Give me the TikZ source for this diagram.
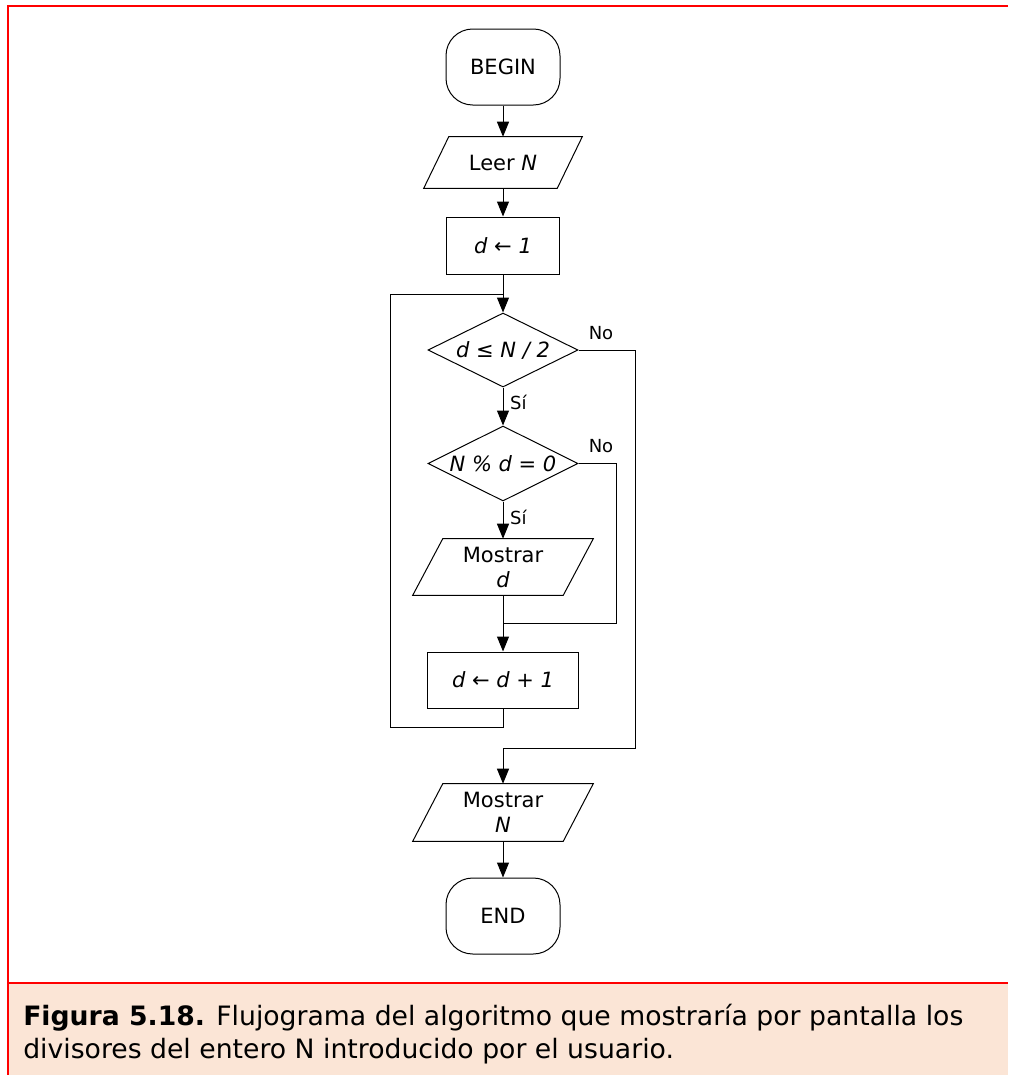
\documentclass[tikz,border=0pt]{standalone}
\usepackage{fontspec}
\setmainfont{DejaVu Sans}
\usetikzlibrary{arrows.meta,shapes.geometric}
\definecolor{framered}{HTML}{FF0000}
\definecolor{capbg}{HTML}{FBE5D6}

% parallelogram drawn around a plain rectangular node (#1 = node, #2 = half slant)
\newcommand\ioframe[2]{%
  \draw[shapeline] ([xshift=#2]#1.north west) -- ([xshift=#2]#1.north east)
    -- ([xshift=-#2]#1.south east) -- ([xshift=-#2]#1.south west) -- cycle;}

\begin{document}
\begin{tikzpicture}[x=0.75pt,y=-0.75pt,
  shapeline/.style={draw=black, line width=0.75pt},
  flow/.style={line width=0.75pt, -{Triangle[length=11.25pt,width=9pt]}},
  plain/.style={line width=0.75pt},
  txt/.style={font=\fontsize{15.75pt}{18.75pt}\selectfont, inner sep=0pt, align=center},
  terminal/.style={txt, shapeline, rectangle, rounded corners=20pt,
    minimum width=85.5pt, minimum height=57pt},
  proc/.style={txt, shapeline, rectangle},
  decision/.style={txt, shapeline, diamond, minimum width=112.5pt},
  io/.style={txt, rectangle},
  lbl/.style={font=\fontsize{13.5pt}{16pt}\selectfont, inner sep=0pt},
  redline/.style={draw=framered, line width=1.5pt},
]
\useasboundingbox (0,0) rectangle (1008,1075);

% frame and caption band
\fill[capbg] (7.5,983) rectangle (1008,1075);
\draw[redline] (1008,6) -- (7.5,6) -- (7.5,1075);
\draw[redline] (7.5,983) -- (1008,983);

% flowchart blocks
\node[terminal] (begin) at (503,67) {BEGIN};
\node[io, minimum width=99.75pt, minimum height=38.25pt] (read) at (503,162.5) {Leer \textit{N}};
\ioframe{read}{9.375pt}
\node[proc, minimum width=84.75pt, minimum height=42.75pt] (init) at (503,245.5) {\textit{d} ← \textit{1}};
\node[decision, minimum height=55.5pt] (cond1) at (503,350) {\makebox[0pt]{\textit{d} ≤ \textit{N / 2}}};
\node[decision, minimum height=56.25pt] (cond2) at (503,463.5) {\makebox[0pt]{\textit{N \% d = 0}}};
\node[io, minimum width=112.5pt, minimum height=42pt] (showd) at (503,567) {Mostrar\\\textit{d}};
\ioframe{showd}{11.25pt}
\node[proc, minimum width=113.25pt, minimum height=42pt] (inc) at (503,680) {\textit{d} ← \textit{d + 1}};
\node[io, minimum width=112.5pt, minimum height=42.75pt] (showN) at (503,812.5) {Mostrar\\\textit{N}};
\ioframe{showN}{11.25pt}
\node[terminal] (end) at (503,916) {END};

% bend points of the connectors
\coordinate (loopB) at (390,727);
\coordinate (loopT) at (390,294);
\coordinate (merge2) at (616,623);
\coordinate (merge1) at (635,748);

% connectors
\draw[flow] (begin) -- (read);
\draw[flow] (read) -- (init);
\draw[flow] (init) -- (cond1);
\draw[flow] (cond1) -- node[lbl, anchor=west, pos=0.4, xshift=5pt] {Sí} (cond2);
\draw[flow] (cond2) -- node[lbl, anchor=west, pos=0.42, xshift=5pt] {Sí} (showd);
\draw[flow] (showd) -- (inc);
\draw[plain] (cond2.east) -| (merge2) -- (merge2 -| inc.north);
\draw[plain] (inc.south) -- (inc.south |- loopB) -- (loopB) -- (loopT) -- (init.south |- loopT);
\draw[flow] (cond1.east) -| (merge1) -- (merge1 -| showN.north) -- (showN.north);
\draw[flow] (showN) -- (end);
\node[lbl, anchor=south west, xshift=7.5pt, yshift=7.5pt] (no1) at (cond1.east) {No};
\node[lbl, anchor=south west, xshift=7.5pt, yshift=7.5pt] (no2) at (cond2.east) {No};

% caption (base anchor sits on the last line)
\node[anchor=base west, inner sep=0pt, align=left,
  font=\fontsize{20pt}{24.75pt}\selectfont] (caption) at (23,1058)
  {\textbf{Figura 5.18.} Flujograma del algoritmo que mostraría por pantalla los\\
   divisores del entero N introducido por el usuario.};
\end{tikzpicture}
\end{document}
